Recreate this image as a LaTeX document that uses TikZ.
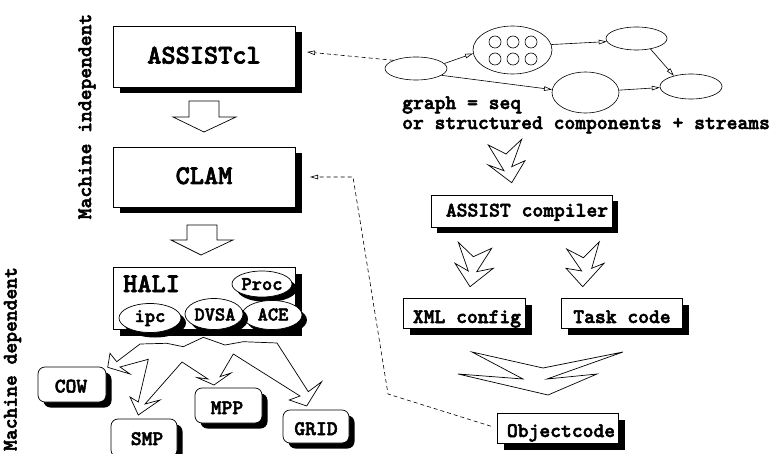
\documentclass[tikz,border=0pt]{standalone}
\usepackage{fontspec}
\newfontfamily\courb{lmmonolt10-bold.otf}[FakeBold=2.5]
\usetikzlibrary{shapes.geometric,arrows.meta,shadows}
\begin{document}
\begin{tikzpicture}[x=1pt,y=-1pt,
  big/.style={font=\courb\fontsize{27}{32}\selectfont, inner sep=0pt},
  med/.style={font=\courb\fontsize{20.6}{24}\selectfont, inner sep=0pt},
  sml/.style={font=\courb\fontsize{19.5}{23}\selectfont, inner sep=0pt},
  shad/.style={drop shadow={opacity=1, fill=black, shadow xshift=#1, shadow yshift=-#1}},
  sqbox/.style={draw, line width=0.7pt, fill=white, inner sep=0pt},
  rbox/.style={draw, line width=0.7pt, fill=white, inner sep=0pt, rounded corners=7pt, shad=5.5pt},
  hell/.style={ellipse, draw, line width=0.7pt, fill=white, inner sep=0pt, shad=5pt},
  gell/.style={ellipse, draw, line width=0.6pt, inner sep=0pt},
  gcirc/.style={circle, draw, line width=0.6pt, inner sep=0pt, minimum size=12},
  garrow/.style={line width=0.6pt, -{Triangle[open, length=8pt, width=4.5pt]}},
  dsh/.style={line width=0.6pt, dash pattern=on 4pt off 3pt, -{Triangle[open, length=8pt, width=4.5pt]}},
  blk/.style={draw, line width=0.7pt, fill=white, line join=miter},
]
\useasboundingbox (0,0) rectangle (770,454);

% rotated side labels
\node[med, rotate=90] (lindep) at (87,116.5) {Machine independent};
\node[med, rotate=90] (ldep) at (12.5,359) {Machine dependent};

% left column boxes
\node[sqbox, shad=6.5pt, minimum width=182, minimum height=61] (assist) at (204,56.5) {};
\node[big, anchor=base] (assistt) at (204,63.5) {ASSISTcl};
\node[sqbox, shad=6.5pt, minimum width=182, minimum height=60] (clam) at (204,177) {};
\node[big, anchor=base] (clamt) at (204,184) {CLAM};
\node[sqbox, shad=6.5pt, minimum width=182, minimum height=62] (hali) at (204,298) {};
\node[big, anchor=base west] (halit) at (123,292) {HALI};

% HALI components
\node[hell, minimum width=60, minimum height=26] (proc) at (262,284) {};
\node[sml, anchor=base] (proct) at (262,290) {Proc};
\node[hell, minimum width=60, minimum height=29] (ace) at (272,315) {};
\node[sml, anchor=base] (acet) at (273,320.5) {ACE};
\node[hell, minimum width=58, minimum height=31] (dvsa) at (214,314) {};
\node[sml, anchor=base] (dvsat) at (215,320.5) {DVSA};
\node[hell, minimum width=62, minimum height=29] (ipc) at (150,318) {};
\node[sml, anchor=base] (ipct) at (150,322) {ipc};

% block arrows between left boxes
\draw[blk] (189,101) -- (219,101) -- (219,117) -- (236,117) -- (204,132) -- (173,117) -- (189,117) -- cycle;
\draw[blk] (187,225) -- (217,225) -- (217,240) -- (233,240) -- (201,255) -- (171,240) -- (187,240) -- cycle;

% machine boxes
\node[rbox, minimum width=68, minimum height=35] (cow) at (72,384.5) {};
\node[med, anchor=base] (cowt) at (71,392.5) {COW};
\node[rbox, minimum width=66, minimum height=38] (smp) at (144,438) {};
\node[med, anchor=base] (smpt) at (147,445) {SMP};
\node[rbox, minimum width=67, minimum height=35] (mpp) at (228.5,405.5) {};
\node[med, anchor=base] (mppt) at (227,414) {MPP};
\node[rbox, minimum width=66, minimum height=33] (grid) at (316,426.5) {};
\node[med, anchor=base] (gridt) at (316,435) {GRID};

% branching arrow from HALI
\draw[blk] (140,344) -- (166.7,343.3) -- (183.3,346.7) -- (203.3,337.3) -- (225,345) -- (243.3,341.7) -- (277,343)
  -- (308.3,391.7) -- (321.7,381.7) -- (306.7,406) -- (289.3,400) -- (300,396)
  -- (233.3,354) -- (220,376.7) -- (231,373) -- (214,385) -- (197,377.5) -- (208,379)
  -- (182,362) -- (145,404) -- (160,400) -- (138.3,415) -- (130,397) -- (138.3,402)
  -- (148.3,359.3) -- (120,367) -- (130,374) -- (107.7,367.3) -- (110,353.3) -- (116.7,361.7) -- cycle;

% graph
\node[gell, minimum width=62, minimum height=23] (g1) at (416,68.5) {};
\node[gell, minimum width=79, minimum height=48] (g2) at (512.5,50) {};
\node[gell, minimum width=61, minimum height=23] (g3) at (636.5,38.5) {};
\node[gell, minimum width=67, minimum height=41] (g4) at (585.5,92.5) {};
\node[gell, minimum width=62, minimum height=25] (g5) at (691,86.5) {};
\node[gcirc] (c1) at (495,42) {};
\node[gcirc] (c2) at (513,42) {};
\node[gcirc] (c3) at (531,42) {};
\node[gcirc] (c4) at (495,59) {};
\node[gcirc] (c5) at (513,59) {};
\node[gcirc] (c6) at (531,59) {};
\draw[garrow] (g1.10) -- (g2.185);
\draw[garrow] (g1.-15) -- (g4.175);
\draw[garrow] (g2.8) -- (g3.186);
\draw[garrow] (g3.-37) -- (g5.148);
\draw[garrow] (g4.4) -- (g5.182);
\node[med, anchor=base west] (t1) at (402,109) {graph = seq};
\node[med, anchor=base west] (t2) at (402,129) {or structured components + streams};

% dashed connectors
\coordinate (a1tip) at (307,52);
\draw[dsh] (g1.160) -- (a1tip);

% compiler chain
\draw[blk] (488.3,145) -- (506,154) -- (521.7,139.3) -- (511.7,166.7) -- (525,160.7) -- (511.7,182.7) -- (488.3,165) -- (504,170.7) -- cycle;
\node[sqbox, shad=6pt, minimum width=181, minimum height=32] (comp) at (521.5,211) {};
\node[med, anchor=base] (compt) at (527,216.5) {ASSIST compiler};
\draw[blk] (458.3,242.3) -- (473.3,256.7) -- (491.7,248.3) -- (476.7,271.7) -- (493.3,268.3) -- (470,286.7) -- (455,263.3) -- (468.3,271) -- cycle;
\draw[blk] (566.7,249) -- (583.3,257.7) -- (599.3,241.7) -- (591.7,268.3) -- (604,263.3) -- (582.7,286.7) -- (566,268.3) -- (581.7,271) -- cycle;
\node[sqbox, shad=6.5pt, minimum width=122, minimum height=30] (xml) at (464,313) {};
\node[med, anchor=base] (xmlt) at (467,323) {XML config};
\node[sqbox, shad=6.5pt, minimum width=121, minimum height=30] (task) at (621.5,313) {};
\node[med, anchor=base] (taskt) at (622,323) {Task code};
\draw[blk] (472,352) -- (543,368) -- (623,352) -- (547,379) -- (597,374) -- (548,395) -- (458,374) -- (523,379) -- cycle;
\node[sqbox, shad=6.5pt, minimum width=121, minimum height=30] (obj) at (557.5,428) {};
\node[med, anchor=base] (objt) at (561,437) {Objectcode};

\coordinate (b1) at (388,394);
\coordinate (b2) at (353,177);
\coordinate (c1tip) at (310,177);
\draw[dsh, shorten <=6pt] (obj.west) -- (b1) -- (b2) -- (c1tip);
\end{tikzpicture}
\end{document}
